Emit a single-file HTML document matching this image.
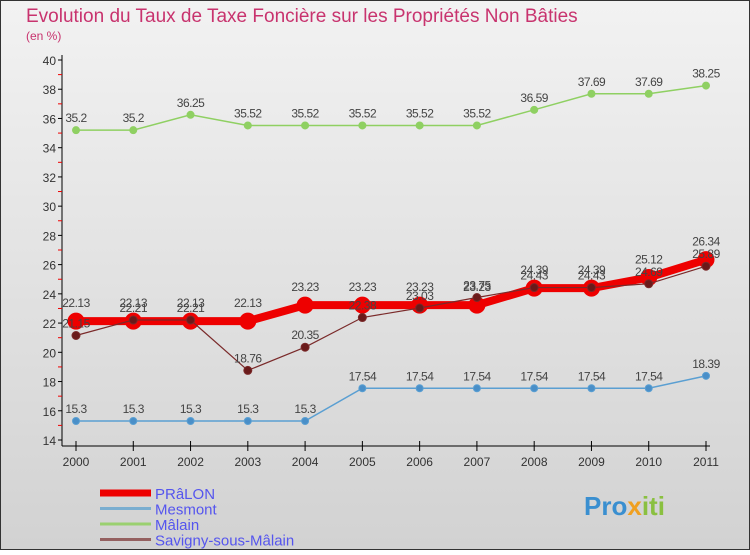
<!DOCTYPE html>
<html><head><meta charset="utf-8"><style>
body{margin:0;width:750px;height:550px;overflow:hidden;font-family:"Liberation Sans",sans-serif}
</style></head><body>
<svg id="chart" width="750" height="550" xmlns="http://www.w3.org/2000/svg">
<defs><linearGradient id="bg" x1="0" y1="0" x2="0" y2="1"><stop offset="0" stop-color="#f2f2f2"/><stop offset="1" stop-color="#d2d2d2"/></linearGradient></defs>
<rect x="0.5" y="0.5" width="749" height="549" fill="url(#bg)" stroke="#333"/>
<text x="26" y="22" font-size="19" fill="#c8336e">Evolution du Taux de Taxe Foncière sur les Propriétés Non Bâties</text>
<text x="26" y="40" font-size="12" fill="#c8336e">(en %)</text>
<g id="axes"></g><g id="series"></g><g id="legend"></g>
<text x="584" y="515" font-size="26" font-weight="bold" fill="#3a8fd0">Pro<tspan fill="#f0a020">x</tspan><tspan fill="#8ac040">iti</tspan></text>
</svg>
<script>
const years=[2000,2001,2002,2003,2004,2005,2006,2007,2008,2009,2010,2011];
const yTicks=[14,16,18,20,22,24,26,28,30,32,34,36,38,40];
const pralon=[22.13,22.13,22.13,22.13,23.23,23.23,23.23,23.23,24.39,24.39,25.12,26.34];
const mesmont=[15.3,15.3,15.3,15.3,15.3,17.54,17.54,17.54,17.54,17.54,17.54,18.39];
const malain=[35.2,35.2,36.25,35.52,35.52,35.52,35.52,35.52,36.59,37.69,37.69,38.25];
const savigny=[21.15,22.21,22.21,18.76,20.35,22.38,23.03,23.75,24.43,24.43,24.69,25.89];
const NS="http://www.w3.org/2000/svg";
const X=i=>76+i*(630/11);
const Y=v=>440-(v-14)*(380/26);
function mk(tag,attrs,parent,txt){const e=document.createElementNS(NS,tag);for(const k in attrs)e.setAttribute(k,attrs[k]);if(txt!==undefined)e.textContent=txt;parent.appendChild(e);return e;}
const ax=document.getElementById('axes');
let e=mk('line',{x1:62,y1:55,x2:62,y2:446,stroke:'#000'},ax);


e=mk('line',{x1:62,y1:446,x2:710,y2:446,stroke:'#000'},ax);


yTicks.forEach(t=>{mk('line',{x1:58,y1:Y(t),x2:62,y2:Y(t),stroke:'#000'},ax);
 if(t<40)mk('line',{x1:58,y1:Y(t+1),x2:62,y2:Y(t+1),stroke:'#e00'},ax);
 e=mk('text',{x:56,y:Y(t)+5,'font-size':12,fill:'#333','text-anchor':'end'},ax,t);
 
 });
years.forEach((yr,i)=>{mk('line',{x1:X(i),y1:441,x2:X(i),y2:451,stroke:'#000'},ax);
 e=mk('text',{x:X(i),y:466,'font-size':12,fill:'#333','text-anchor':'middle'},ax,yr);
 
 });
const sg=document.getElementById('series');
function draw(name,vals,color,w,r,dot,lblDy){
 const g=mk('g',{},sg);
 
 
 mk('polyline',{points:vals.map((v,i)=>X(i)+','+Y(v)).join(' '),fill:'none',stroke:color,'stroke-width':w},g);
 vals.forEach((v,i)=>{const c=mk('circle',{cx:X(i),cy:Y(v),r:r,fill:dot,stroke:color,'stroke-width':1},g);
  
  
  const t=mk('text',{x:X(i),y:Y(v)+lblDy,'font-size':12,fill:'#444','text-anchor':'middle','letter-spacing':'-0.5'},g,v);
  
  });
}
draw('malain',malain,'#8fd062',1.5,3.5,'#8fd062',-8);
draw('mesmont',mesmont,'#5a9fd2',1.5,3.5,'#4a8fc8',-8);
draw('pralon',pralon,'#ee0000',8,8,'#ee0000',-14);
draw('savigny',savigny,'#7a2a2a',1.2,4,'#6a1a1a',-8);
const lg=document.getElementById('legend');
const items=[['PRâLON','#ee0000',7],['Mesmont','#7aaed0',3],['Mâlain','#9ad070',3],['Savigny-sous-Mâlain','#946060',3]];
items.forEach((it,k)=>{const y=493+k*15.5;
 e=mk('line',{x1:100,y1:y,x2:151,y2:y,stroke:it[1],'stroke-width':it[2]},lg);
 
 
 e=mk('text',{x:155,y:y+6,'font-size':15,fill:'#5555ee'},lg,it[0]);
 
 });
</script>
</body></html>
